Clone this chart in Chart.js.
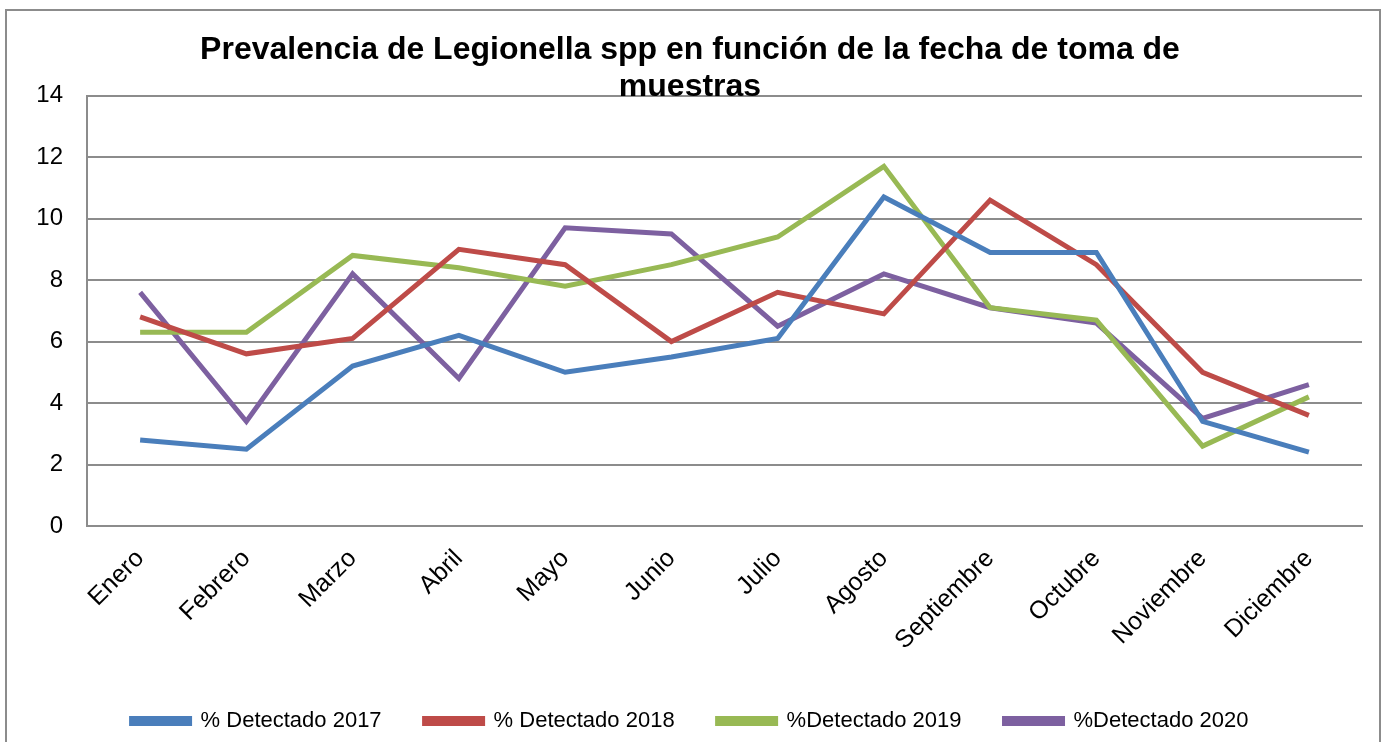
<!DOCTYPE html>
<html>
<head>
<meta charset="utf-8">
<script src="https://cdn.jsdelivr.net/npm/chart.js@4"></script>
<style>
  html, body { margin: 0; padding: 0; background: #fff; overflow: hidden; }
  #frame { position: absolute; left: 5px; top: 9px; width: 1372px; height: 760px; border: 2px solid #8c8c8c; }
  #wrap { position: absolute; left: 0; top: 0; width: 1384px; height: 742px; }
</style>
</head>
<body>
<div id="frame"></div>
<div id="wrap"><canvas id="legionellaChart"></canvas></div>
<script>
const months = ['Enero', 'Febrero', 'Marzo', 'Abril', 'Mayo', 'Junio', 'Julio', 'Agosto', 'Septiembre', 'Octubre', 'Noviembre', 'Diciembre'];
const detectado2017 = [2.8, 2.5, 5.2, 6.2, 5.0, 5.5, 6.1, 10.7, 8.9, 8.9, 3.4, 2.4];
const detectado2018 = [6.8, 5.6, 6.1, 9.0, 8.5, 6.0, 7.6, 6.9, 10.6, 8.5, 5.0, 3.6];
const detectado2019 = [6.3, 6.3, 8.8, 8.4, 7.8, 8.5, 9.4, 11.7, 7.1, 6.7, 2.6, 4.2];
const detectado2020 = [7.6, 3.4, 8.2, 4.8, 9.7, 9.5, 6.5, 8.2, 7.1, 6.6, 3.5, 4.6];
const seriesNames = ['% Detectado 2017', '% Detectado 2018', '%Detectado 2019', '%Detectado 2020'];
const titleLines = ['Prevalencia de Legionella spp en función de la fecha de toma de', 'muestras'];

const colors = ['#4a7ebb', '#be4b48', '#98b954', '#7d60a0'];
const allSeries = [detectado2017, detectado2018, detectado2019, detectado2020];
const gridColor = '#8c8c8c';
const font = 'Liberation Sans, Arial, sans-serif';

const ctx = document.getElementById('legionellaChart').getContext('2d');
new Chart(ctx, {
    type: 'line',
    data: {
        labels: months,
        datasets: allSeries.map((vals, i) => ({
            label: seriesNames[i], data: vals,
            borderColor: colors[i], backgroundColor: colors[i],
            borderWidth: 5, pointRadius: 0, tension: 0, fill: false
        }))
    },
    options: {
        responsive: true, maintainAspectRatio: false, animation: false,
        // left/right padding keep the title centred where the original has it
        layout: { padding: { left: 18, right: 22, top: 0, bottom: 0 } },
        plugins: {
            title: {
                display: true, text: titleLines, color: '#000',
                font: { family: font, size: 32, weight: 'bold', lineHeight: 1.15 },
                padding: { top: 32, bottom: -10 }
            },
            legend: {
                position: 'bottom',
                labels: { color: '#000', font: { family: font, size: 22 }, boxWidth: 58, boxHeight: 5, padding: 43 }
            },
            tooltip: { enabled: false }
        },
        scales: {
            x: {
                offset: true,
                grid: { display: false },
                border: { display: true, color: gridColor, width: 2 },
                ticks: { color: '#000', font: { family: font, size: 25 }, maxRotation: 45, minRotation: 45, autoSkip: false, padding: 10 },
                afterFit: scale => { scale.height = 141; }
            },
            y: {
                min: 0, max: 14,
                grid: { color: gridColor, lineWidth: 2, drawTicks: false },
                border: { display: true, color: gridColor, width: 2 },
                ticks: { stepSize: 2, color: '#000', font: { family: font, size: 24 }, padding: 24 },
                afterFit: scale => { scale.width = 69; }
            }
        }
    }
});
</script>
</body>
</html>
